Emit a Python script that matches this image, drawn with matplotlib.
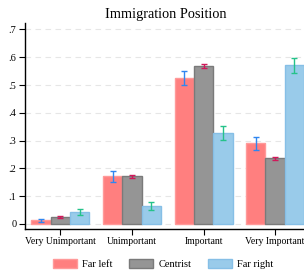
import numpy as np
import matplotlib.pyplot as plt
from matplotlib.patches import Patch

plt.rcParams['font.family'] = ['Liberation Serif', 'DejaVu Serif']

# data
categories = ['Very Unimportant', 'Unimportant', 'Important', 'Very Important']
groups = ['Far left', 'Centrist', 'Far right']
far_left = [0.013, 0.172, 0.525, 0.291]
centrist = [0.026, 0.171, 0.567, 0.236]
far_right = [0.043, 0.064, 0.327, 0.571]
err_left = [0.005, 0.020, 0.026, 0.023]
err_centrist = [0.003, 0.005, 0.007, 0.006]
err_right = [0.011, 0.014, 0.026, 0.028]
yticks = [0, 0.1, 0.2, 0.3, 0.4, 0.5, 0.6, 0.7]
ytick_labels = ['0', '.1', '.2', '.3', '.4', '.5', '.6', '.7']

fill_cols = ['#ff7f7f', '#959595', '#99cbea']
edge_cols = ['#ff9a9a', '#7a7a7a', '#86bfe6']
err_cols = ['#2f86f0', '#d0195a', '#25c28a']

fig = plt.figure(figsize=(3.04, 2.71), dpi=100)
ax = fig.add_axes([0.081, 0.155, 0.93, 0.76])

x = np.arange(1, len(categories) + 1)
w = 0.27
series = [far_left, centrist, far_right]
errs = [err_left, err_centrist, err_right]
for i in range(3):
    xi = x + (i - 1) * w
    ax.bar(xi, series[i], width=w, color=fill_cols[i], edgecolor=edge_cols[i],
           linewidth=1.0, zorder=2)
    ax.errorbar(xi, series[i], yerr=errs[i], fmt='none', ecolor=err_cols[i],
                elinewidth=1.0, capsize=2, capthick=1.0, zorder=3)

ax.set_xlim(0.5, 4.45)
ax.set_ylim(-0.018, 0.723)
ax.set_yticks(yticks)
ax.set_yticklabels(ytick_labels, fontsize=7.5)
ax.set_xticks(x)
ax.set_xticklabels(categories, fontsize=7.0)
ax.tick_params(axis='both', direction='out', length=4, width=0.8, colors='black', pad=2)
ax.yaxis.grid(True, linestyle=(0, (5, 4)), color='#e6e6e6', linewidth=0.8, zorder=0)
ax.set_axisbelow(True)
for s in ['top', 'right']:
    ax.spines[s].set_visible(False)
ax.spines['left'].set_linewidth(1.0)
ax.spines['bottom'].set_linewidth(1.0)

fig.text(0.545, 0.945, 'Immigration Position', ha='center', va='center', fontsize=10.3)

handles = [Patch(facecolor=fill_cols[i], edgecolor=edge_cols[i]) for i in range(3)]
fig.legend(handles, groups, loc='center', bbox_to_anchor=(0.537, 0.025), ncol=3,
           frameon=False, fontsize=7.5, handlelength=2.3, handleheight=0.9,
           columnspacing=1.6, handletextpad=0.5)

plt.savefig('out.png', dpi=100)
